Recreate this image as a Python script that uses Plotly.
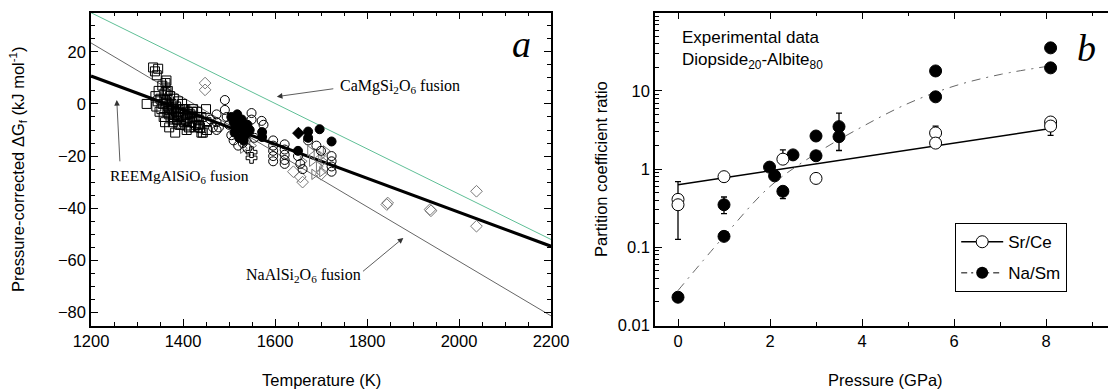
import plotly.graph_objects as go

W, H = 1116, 392
OFF = 8  # page body margin offset in the browser

# ---------------- Panel a data ----------------
line_T = [1200, 2200]
ree_G = [10.7, -54.6]      # REEMgAlSiO6 fusion
na_G = [23.4, -81.3]       # NaAlSi2O6 fusion
ca_G = [35.0, -52.0]       # CaMgSi2O6 fusion

sq_T = [1335, 1339, 1343, 1346, 1321,
        1340, 1342, 1345, 1347, 1349,
        1351, 1353, 1355, 1356, 1358,
        1360, 1361, 1363, 1364, 1366,
        1367, 1369, 1370, 1372, 1373,
        1375, 1377, 1378, 1380, 1381,
        1383, 1385, 1387, 1389, 1390,
        1392, 1394, 1396, 1398, 1400,
        1402, 1405, 1408, 1410, 1413,
        1416, 1419, 1422, 1425, 1428,
        1431, 1434, 1437, 1440, 1443,
        1450, 1451, 1452]
sq_G = [14, 12.5, 11, 13.5, 0,
        3, -1, 1, 5, -3,
        2, -2, 7, 0, -5,
        4, -7, 1, 9, -3,
        5, -1, -9, 3, -5,
        0, -2, -7, 2, -4,
        -11, -1, -6, 1, -3,
        -8, -2, -5, 0, -4,
        -7, -2, -6, -3, -9,
        -4, -7, -2, -5, -8,
        -3, -6, -9, -5, -11,
        -2, -7, -10]

hs_T = [1362, 1364, 1366, 1368, 1370,
        1375, 1380, 1385, 1390, 1395,
        1400, 1405, 1410, 1415, 1420,
        1425, 1430, 1435, 1440, 1408]
hs_G = [8, 5, 2, -1, -4,
        -2, -6, -3, -5, -8,
        -2, -6, -4, -7, -3,
        -9, -5, -8, -11, -10]

oc_T = [1460, 1465, 1473, 1473, 1473,
        1478, 1491, 1491, 1495, 1500,
        1505, 1510, 1520, 1530, 1540,
        1549, 1549, 1555, 1571, 1575,
        1596, 1596, 1596, 1596, 1596,
        1621, 1621, 1621, 1621, 1621,
        1650, 1655, 1660, 1672, 1690,
        1700, 1723, 1723, 1723, 1723]
oc_G = [-6, -9, -4, -7, -10,
        -9, 1.5, -2.3, -5, -8,
        -12, -14, -16, -15, -17,
        -3.5, -6, -13, -6.5, -8,
        -14, -16, -18, -20, -22,
        -15.5, -17.5, -19.5, -21.5, -23,
        -20, -23, -25, -14, -16,
        -18, -20, -22, -24, -26]

fc_T = [1505, 1510, 1515, 1520, 1525,
        1530, 1535, 1512, 1522, 1532,
        1518, 1528, 1540, 1545, 1572,
        1572, 1650, 1672, 1672, 1697,
        1723]
fc_G = [-5, -7, -9, -6, -8,
        -10, -12, -11, -13, -14,
        -4, -6, -8, -10, -10.8,
        -12.7, -18, -10.6, -13, -9.7,
        -14.4]

gd_T = [1448, 1448, 1640, 1655, 1660, 1700, 1843, 1845, 1937, 1939, 2038, 2038]
gd_G = [8, 5.4, -26, -28, -30, -27, -38.6, -38, -40.5, -41, -33.5, -46.9]

tr_T = [1530, 1540, 1550, 1660, 1676, 1680, 1685, 1690, 1695, 1700, 1702, 1705, 1710]
tr_G = [-17, -14, -16, -22, -18, -22, -27, -19, -24, -20, -26, -22, -18]

pl_T = [1549, 1549]
pl_G = [-20.7, -18.5]

fd_T = [1651]
fd_G = [-11.2]

# ---------------- Panel b data ----------------
srce_P = [0, 0, 1, 2.28, 3.0, 5.6, 5.6, 8.1, 8.1]
srce_R = [0.41, 0.35, 0.80, 1.34, 0.76, 2.9, 2.15, 4.0, 3.55]
srce_hi = [0.41, 0.69, 0.80, 1.76, 0.76, 3.55, 2.15, 4.0, 3.55]
srce_lo = [0.41, 0.126, 0.80, 1.34, 0.76, 2.9, 2.15, 4.0, 2.7]

nasm_P = [0, 1, 1, 1.99, 2.1, 2.28, 2.5, 3.0, 3.0, 3.5, 3.5, 5.6, 5.6, 8.1, 8.1]
nasm_R = [0.023, 0.35, 0.138, 1.06, 0.82, 0.52, 1.52, 2.65, 1.48, 3.49, 2.6, 18, 8.4, 35.5, 19.7]
nasm_hi = [0.023, 0.44, 0.138, 1.06, 0.82, 0.52, 1.52, 2.65, 1.48, 5.2, 2.6, 18, 8.4, 35.5, 19.7]
nasm_lo = [0.023, 0.27, 0.138, 1.06, 0.82, 0.42, 1.52, 2.65, 1.48, 3.49, 1.73, 18, 8.4, 35.5, 19.7]

srce_fit_P = [0, 8.1]
srce_fit_R = [0.63, 3.3]
nasm_fit_P = [0, 1, 2, 3, 4, 5, 6, 7, 8.1]
nasm_fit_R = [0.028, 0.138, 0.60, 1.58, 3.47, 6.9, 11.5, 16.2, 20.9]

SANS = "Liberation Sans, Arial, sans-serif"
SERIF = "Liberation Serif, Times New Roman, serif"


def PX(px):
    return (px - OFF) / W


def PY(py):
    return 1 - (py - OFF) / H


fig = go.Figure()

# lines panel a
fig.add_trace(go.Scatter(x=line_T, y=ca_G, mode="lines", line=dict(color="#5fbf96", width=1),
                         showlegend=False, xaxis="x", yaxis="y"))
fig.add_trace(go.Scatter(x=line_T, y=na_G, mode="lines", line=dict(color="#666666", width=1),
                         showlegend=False, xaxis="x", yaxis="y"))
fig.add_trace(go.Scatter(x=line_T, y=ree_G, mode="lines", line=dict(color="black", width=3.2),
                         showlegend=False, xaxis="x", yaxis="y"))


def pts(xs, ys, symbol, color="black", size=9, lw=1):
    fig.add_trace(go.Scatter(x=xs, y=ys, mode="markers",
                             marker=dict(symbol=symbol, size=size, color=color,
                                         line=dict(color=color, width=lw)),
                             showlegend=False, xaxis="x", yaxis="y"))


pts(gd_T, gd_G, "diamond-open", color="#777777")
pts(tr_T, tr_G, "triangle-right-open", color="#777777")
pts(sq_T, sq_G, "square-open")
pts(hs_T, hs_G, "square-cross-open")
pts(oc_T, oc_G, "circle-open")
pts(fc_T, fc_G, "circle")
pts(pl_T, pl_G, "cross-open")
pts(fd_T, fd_G, "diamond")

# panel b
fig.add_trace(go.Scatter(x=srce_fit_P, y=srce_fit_R, mode="lines", line=dict(color="black", width=1.5),
                         showlegend=False, xaxis="x2", yaxis="y2"))
fig.add_trace(go.Scatter(x=nasm_fit_P, y=nasm_fit_R, mode="lines", line_shape="spline",
                         line=dict(color="#666666", width=1, dash="9px,6px,2px,6px"),
                         showlegend=False, xaxis="x2", yaxis="y2"))

fig.add_trace(go.Scatter(
    x=nasm_P, y=nasm_R, mode="markers",
    marker=dict(symbol="circle", size=12, color="black", line=dict(color="black", width=1)),
    error_y=dict(type="data", symmetric=False,
                 array=[h - r for h, r in zip(nasm_hi, nasm_R)],
                 arrayminus=[r - l for l, r in zip(nasm_lo, nasm_R)],
                 color="black", thickness=1.3, width=3),
    showlegend=False, xaxis="x2", yaxis="y2"))
fig.add_trace(go.Scatter(
    x=srce_P, y=srce_R, mode="markers",
    marker=dict(symbol="circle", size=12, color="white", line=dict(color="black", width=1)),
    error_y=dict(type="data", symmetric=False,
                 array=[h - r for h, r in zip(srce_hi, srce_R)],
                 arrayminus=[r - l for l, r in zip(srce_lo, srce_R)],
                 color="black", thickness=1.3, width=3),
    showlegend=False, xaxis="x2", yaxis="y2"))

# legend-only entries
fig.add_trace(go.Scatter(x=[None], y=[None], mode="lines+markers", name="Sr/Ce", legendgroup="a",
                         line=dict(color="black", width=1.5),
                         marker=dict(symbol="circle", size=12, color="white", line=dict(color="black", width=1)),
                         xaxis="x2", yaxis="y2"))
fig.add_trace(go.Scatter(x=[None], y=[None], mode="lines+markers", name="Na/Sm", legendgroup="b",
                         line=dict(color="black", width=1, dash="6px,4px,2px,4px"),
                         marker=dict(symbol="circle", size=12, color="black"),
                         xaxis="x2", yaxis="y2"))

y_dom = [PY(325.5), PY(12.7)]
axis_common = dict(showline=True, linecolor="black", linewidth=1.5, mirror="allticks",
                   ticks="inside", ticklen=7, tickwidth=1.2, tickcolor="black",
                   showgrid=False, zeroline=False, automargin=False,
                   tickfont=dict(family=SANS, size=16.5, color="black"))

fig.update_layout(
    width=W, height=H,
    margin=dict(l=0, r=0, t=0, b=0, pad=0, autoexpand=False),
    paper_bgcolor="white", plot_bgcolor="white",
    xaxis=dict(domain=[PX(91), PX(551)], range=[1200, 2200], dtick=200, tick0=1200,
               minor=dict(ticks="inside", ticklen=4, dtick=50, tickcolor="black", showgrid=False),
               anchor="y", **axis_common),
    yaxis=dict(domain=y_dom, range=[-85, 35], dtick=20, tick0=0,
               minor=dict(ticks="inside", ticklen=4, dtick=5, tickcolor="black", showgrid=False),
               anchor="x", **axis_common),
    xaxis2=dict(domain=[PX(655), PX(1115)], range=[-0.5, 9.5], dtick=2, tick0=0,
                minor=dict(ticks="inside", ticklen=4, dtick=1, tickcolor="black", showgrid=False),
                anchor="y2", **axis_common),
    yaxis2=dict(domain=y_dom, type="log", range=[-2, 2], dtick=1, tick0=0,
                minor=dict(ticks="inside", ticklen=4, dtick="D1", tickcolor="black", showgrid=False),
                anchor="x2", **axis_common),
    legend=dict(x=PX(955), y=PY(223), xanchor="left", yanchor="top", itemwidth=42,
                bgcolor="white", bordercolor="black", borderwidth=1.2,
                font=dict(family=SANS, size=17, color="black"), tracegroupgap=6),
    font=dict(family=SANS, color="black"),
)

ann = []
# axis titles
ann.append(dict(text="Temperature (K)", x=PX(321), y=PY(380), xref="paper", yref="paper",
                showarrow=False, font=dict(family=SANS, size=16.5), xanchor="center", yanchor="middle"))
ann.append(dict(text="Pressure (GPa)", x=PX(885), y=PY(380), xref="paper", yref="paper",
                showarrow=False, font=dict(family=SANS, size=16.5), xanchor="center", yanchor="middle"))
ann.append(dict(text="Pressure-corrected ΔG<sub>f</sub> (kJ mol<sup>-1</sup>)", x=PX(18), y=PY(169),
                xref="paper", yref="paper", showarrow=False, textangle=-90,
                font=dict(family=SANS, size=16.5), xanchor="center", yanchor="middle"))
ann.append(dict(text="Partition coefficient ratio", x=PX(601), y=PY(169),
                xref="paper", yref="paper", showarrow=False, textangle=-90,
                font=dict(family=SANS, size=16.5), xanchor="center", yanchor="middle"))
# panel letters
ann.append(dict(text="<i>a</i>", x=PX(521), y=PY(44), xref="paper", yref="paper", showarrow=False,
                font=dict(family=SERIF, size=38), xanchor="center", yanchor="middle"))
ann.append(dict(text="<i>b</i>", x=PX(1086), y=PY(48), xref="paper", yref="paper", showarrow=False,
                font=dict(family=SERIF, size=38), xanchor="center", yanchor="middle"))
# experimental data text
ann.append(dict(text="Experimental data<br>Diopside<sub>20</sub>-Albite<sub>80</sub>", x=PX(680), y=PY(26),
                xref="paper", yref="paper", showarrow=False, align="left",
                font=dict(family=SANS, size=17), xanchor="left", yanchor="top"))
# panel a labels
ann.append(dict(text="CaMgSi<sub>2</sub>O<sub>6</sub> fusion", x=1737, y=6.5, xref="x", yref="y",
                showarrow=False, font=dict(family=SERIF, size=16), xanchor="left", yanchor="middle"))
ann.append(dict(text="", x=1604, y=2.8, ax=1730, ay=5.9, xref="x", yref="y", axref="x", ayref="y",
                showarrow=True, arrowhead=2, arrowsize=1.4, arrowwidth=0.8, arrowcolor="#333333"))
ann.append(dict(text="REEMgAlSiO<sub>6</sub> fusion", x=1237, y=-28, xref="x", yref="y",
                showarrow=False, font=dict(family=SERIF, size=15.5), xanchor="left", yanchor="middle"))
ann.append(dict(text="", x=1256, y=1.5, ax=1263, ay=-22.6, xref="x", yref="y", axref="x", ayref="y",
                showarrow=True, arrowhead=2, arrowsize=1.4, arrowwidth=0.8, arrowcolor="#333333"))
ann.append(dict(text="NaAlSi<sub>2</sub>O<sub>6</sub> fusion", x=1662, y=-66, xref="x", yref="y",
                showarrow=False, font=dict(family=SERIF, size=16), xanchor="center", yanchor="middle"))
ann.append(dict(text="", x=1879, y=-51.4, ax=1788, ay=-64.7, xref="x", yref="y", axref="x", ayref="y",
                showarrow=True, arrowhead=2, arrowsize=1.4, arrowwidth=0.8, arrowcolor="#333333"))

fig.update_layout(annotations=ann)

fig.write_html("out.html")
